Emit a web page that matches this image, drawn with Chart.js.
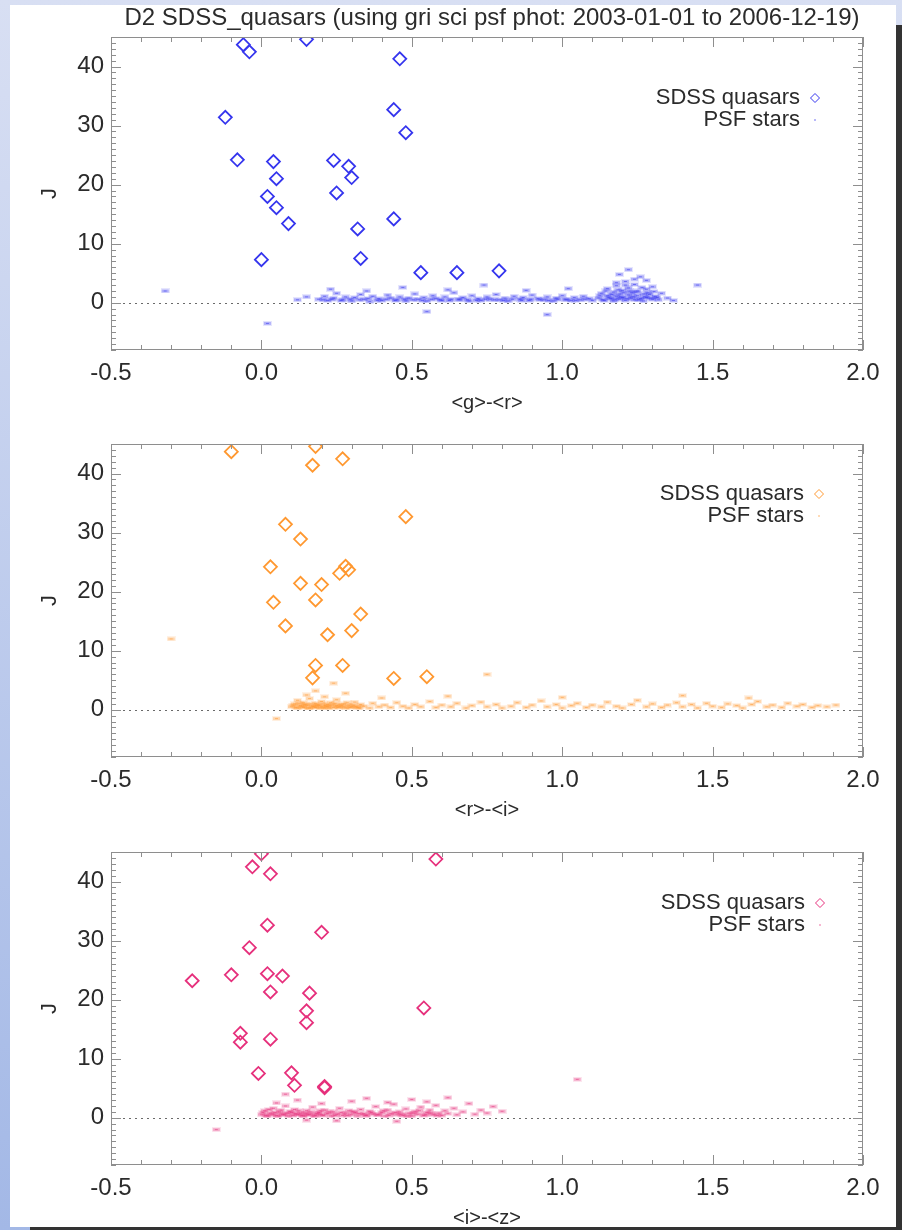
<!DOCTYPE html>
<html>
<head>
<meta charset="utf-8">
<script src="https://cdn.jsdelivr.net/npm/chart.js@4.4.0/dist/chart.umd.min.js"></script>
<style>
  html, body { margin: 0; padding: 0; }
  body {
    width: 902px; height: 1230px; position: relative; overflow: hidden;
    background: linear-gradient(#d8dff3, #a3b8e6);
    font-family: 'Liberation Sans', Arial, Helvetica, sans-serif;
  }
  #shadow { position: absolute; left: 30px; top: 25px; width: 900px; height: 1230px; background: #333; }
  #sheet { position: absolute; left: 10px; top: 5px; width: 886px; height: 1222px; background: #fff; }
  #title {
    position: absolute; left: 0; top: 3px; width: 984px; text-align: center;
    font-size: 24px; color: #2b2b2b; white-space: nowrap; filter: blur(0.3px);
  }
  canvas { position: absolute; left: 0; filter: blur(0.3px); }
</style>
</head>
<body>
<div id="shadow"></div>
<div id="sheet"></div>
<div id="title">D2 SDSS_quasars (using gri sci psf phot: 2003-01-01 to 2006-12-19)</div>
<canvas id="grChart" width="902" height="413" style="top:7px"></canvas>
<canvas id="riChart" width="902" height="413" style="top:414px"></canvas>
<canvas id="izChart" width="902" height="413" style="top:822px"></canvas>

<script>
// D2 SDSS quasars vs PSF stars, J index against colour
const X_TICKS = [-0.5, 0.0, 0.5, 1.0, 1.5, 2.0];
const Y_TICKS = [0, 10, 20, 30, 40];

const BLUE = '#3535ee';
const ORANGE = '#ff9830';
const PINK = '#e6307c';

// ── <g>-<r> ───────────────────────────────────────────────
const QSO_GR = [
  [-0.06, 43.7], [-0.04, 42.5], [0.15, 44.6], [0.46, 41.3], [-0.12, 31.4], [0.44, 32.7],
  [0.48, 28.8], [-0.08, 24.2], [0.04, 23.9], [0.24, 24.1], [0.29, 23.1], [0.30, 21.2],
  [0.05, 21.0], [0.25, 18.6], [0.02, 18.0], [0.05, 16.1], [0.09, 13.4], [0.44, 14.2],
  [0.32, 12.5], [0.00, 7.3], [0.33, 7.5], [0.53, 5.1], [0.65, 5.1], [0.79, 5.4]
];
const STARS_GR = [
  [0.19, 0.6], [0.21, 1.1], [0.22, 0.4], [0.24, 0.8], [0.25, 1.6], [0.27, 0.5], [0.28, 1.0],
  [0.30, 0.3], [0.31, 0.9], [0.33, 1.4], [0.34, 0.6], [0.36, 0.2], [0.37, 1.1], [0.39, 0.7],
  [0.40, 0.4], [0.42, 1.3], [0.43, 0.8], [0.45, 0.5], [0.46, 1.0], [0.48, 0.3], [0.49, 0.8],
  [0.51, 1.5], [0.52, 0.6], [0.54, 0.9], [0.55, 0.3], [0.57, 1.2], [0.58, 0.7], [0.60, 0.4],
  [0.61, 1.0], [0.63, 0.6], [0.64, 1.7], [0.66, 0.5], [0.67, 0.9], [0.69, 0.3], [0.70, 1.2],
  [0.72, 0.7], [0.73, 0.4], [0.75, 1.0], [0.76, 0.6], [0.78, 1.4], [0.79, 0.5], [0.81, 0.8],
  [0.82, 0.3], [0.84, 1.1], [0.86, 0.6], [0.87, 0.9], [0.89, 0.4], [0.90, 1.3], [0.92, 0.7],
  [0.94, 0.5], [0.95, 1.0], [0.97, 0.3], [0.98, 0.8], [1.00, 1.2], [1.01, 0.6], [1.03, 0.4],
  [1.04, 0.9], [1.06, 0.5], [1.07, 1.1], [1.09, 0.7], [1.10, 0.4],
  [0.205, 0.5], [0.235, 0.6], [0.265, 0.4], [0.295, 0.6], [0.325, 0.5], [0.355, 0.7],
  [0.385, 0.4], [0.415, 0.6], [0.445, 0.4], [0.475, 0.6], [0.505, 0.5], [0.535, 0.4],
  [0.565, 0.6], [0.595, 0.5], [0.625, 0.4], [0.655, 0.6], [0.685, 0.5], [0.715, 0.4],
  [0.745, 0.6], [0.775, 0.5], [0.805, 0.4], [0.835, 0.6], [0.865, 0.4], [0.895, 0.6],
  [0.925, 0.5], [0.955, 0.4], [0.985, 0.6], [1.015, 0.5], [1.045, 0.4], [1.075, 0.6],
  [1.12, 0.8], [1.13, 1.6], [1.14, 0.4], [1.15, 1.2], [1.15, 2.4], [1.16, 0.7], [1.17, 1.8],
  [1.17, 0.3], [1.18, 1.1], [1.18, 2.9], [1.19, 0.6], [1.19, 1.5], [1.20, 2.1], [1.20, 0.9],
  [1.21, 3.6], [1.21, 0.4], [1.22, 1.3], [1.22, 2.5], [1.23, 0.8], [1.23, 1.7], [1.24, 0.5],
  [1.24, 3.1], [1.25, 1.2], [1.25, 2.0], [1.26, 0.7], [1.26, 4.4], [1.27, 1.5], [1.27, 0.3],
  [1.28, 2.3], [1.28, 0.9], [1.29, 1.4], [1.30, 0.6], [1.30, 2.7], [1.31, 1.1], [1.32, 0.5],
  [1.33, 1.6], [1.35, 0.8], [1.37, 0.4],
  [1.125, 1.2], [1.135, 0.5], [1.145, 2.0], [1.155, 0.9], [1.165, 1.4], [1.175, 0.6],
  [1.185, 2.2], [1.195, 1.0], [1.205, 1.7], [1.215, 0.7], [1.225, 2.0], [1.235, 1.1],
  [1.245, 1.8], [1.255, 0.5], [1.265, 2.6], [1.275, 1.0], [1.285, 1.7], [1.295, 0.8],
  [1.305, 1.9], [1.315, 0.9], [1.21, 3.0], [1.24, 4.0], [1.18, 3.4],
  [0.23, 2.3], [0.35, 2.0], [0.47, 2.6], [0.62, 2.2], [0.74, 3.0], [0.88, 2.1], [1.02, 2.4],
  [1.22, 5.6], [1.19, 4.8], [1.28, 3.8],
  [-0.32, 2.0], [0.02, -3.5], [0.55, -1.5], [0.95, -2.0], [1.45, 3.0], [0.12, 0.5], [0.15, 1.0]
];

// ── <r>-<i> ───────────────────────────────────────────────
const QSO_RI = [
  [-0.10, 43.7], [0.18, 44.6], [0.17, 41.4], [0.27, 42.5], [0.48, 32.7], [0.08, 31.4],
  [0.13, 28.9], [0.03, 24.2], [0.28, 24.3], [0.29, 23.7], [0.26, 23.1], [0.13, 21.4],
  [0.20, 21.2], [0.18, 18.6], [0.04, 18.2], [0.33, 16.2], [0.08, 14.2], [0.30, 13.4],
  [0.22, 12.7], [0.18, 7.5], [0.27, 7.5], [0.17, 5.4], [0.44, 5.3], [0.55, 5.6]
];
const STARS_RI = [
  [0.10, 0.5], [0.11, 1.0], [0.12, 0.3], [0.12, 1.6], [0.13, 0.7], [0.14, 0.4], [0.14, 1.2],
  [0.15, 0.8], [0.16, 0.3], [0.16, 1.9], [0.17, 0.6], [0.18, 1.1], [0.18, 0.4], [0.19, 0.8],
  [0.20, 0.5], [0.20, 1.4], [0.21, 0.3], [0.22, 0.9], [0.22, 0.6], [0.23, 1.2], [0.24, 0.4],
  [0.25, 0.7], [0.25, 1.7], [0.26, 0.5], [0.27, 1.0], [0.28, 0.3], [0.29, 0.8], [0.30, 0.5],
  [0.31, 1.3], [0.32, 0.4], [0.33, 0.9], [0.34, 0.6], [0.36, 0.3], [0.37, 1.1], [0.39, 0.5],
  [0.105, 0.8], [0.115, 0.4], [0.125, 1.1], [0.135, 0.5], [0.145, 0.9], [0.155, 0.3],
  [0.165, 1.0], [0.175, 0.5], [0.185, 0.8], [0.195, 0.3], [0.205, 1.0], [0.215, 0.6],
  [0.225, 0.3], [0.235, 0.8], [0.245, 1.1], [0.255, 0.4], [0.265, 0.8], [0.275, 0.5],
  [0.285, 1.2], [0.295, 0.4], [0.305, 0.8], [0.315, 0.5], [0.325, 0.3],
  [0.41, 0.8], [0.43, 0.4], [0.45, 1.2], [0.47, 0.6], [0.49, 0.3], [0.51, 0.9], [0.53, 0.5],
  [0.56, 1.4], [0.58, 0.4], [0.60, 0.8], [0.63, 0.5], [0.65, 1.1], [0.68, 0.3], [0.70, 0.7],
  [0.73, 1.3], [0.75, 0.5], [0.78, 0.9], [0.80, 0.3], [0.83, 0.6], [0.85, 1.2], [0.88, 0.4],
  [0.90, 0.8], [0.93, 1.5], [0.95, 0.5], [0.98, 0.9], [1.00, 0.3], [1.03, 0.7], [1.05, 1.1],
  [1.08, 0.4], [1.10, 0.8], [1.13, 0.5], [1.15, 1.3], [1.18, 0.6], [1.20, 0.3], [1.23, 0.9],
  [1.25, 1.6], [1.28, 0.5], [1.30, 1.0], [1.33, 0.4], [1.35, 0.8], [1.38, 1.2], [1.40, 0.5],
  [1.43, 0.9], [1.45, 0.3], [1.48, 1.1], [1.50, 0.6], [1.53, 0.4], [1.55, 1.0], [1.58, 0.7],
  [1.60, 0.3], [1.63, 0.9], [1.65, 1.4], [1.68, 0.5], [1.70, 0.8], [1.73, 0.4], [1.75, 1.1],
  [1.78, 0.6], [1.80, 0.9], [1.83, 0.4], [1.85, 0.7], [1.88, 0.5], [1.91, 0.8],
  [0.15, 2.5], [0.21, 2.2], [0.28, 2.8], [0.18, 3.2], [0.40, 2.0], [0.62, 2.3], [1.00, 2.1],
  [1.40, 2.4], [1.62, 2.0], [0.24, 4.5],
  [-0.30, 12.0], [0.75, 6.0], [0.05, -1.5]
];

// ── <i>-<z> ───────────────────────────────────────────────
const QSO_IZ = [
  [0.00, 44.7], [-0.03, 42.5], [0.03, 41.3], [0.58, 43.8], [0.02, 32.6], [0.20, 31.4],
  [-0.04, 28.8], [-0.23, 23.2], [-0.10, 24.2], [0.02, 24.4], [0.07, 24.0], [0.03, 21.3],
  [0.16, 21.1], [0.15, 18.1], [0.54, 18.6], [0.15, 16.1], [-0.07, 14.3], [-0.07, 12.8],
  [0.03, 13.3], [-0.01, 7.5], [0.10, 7.6], [0.11, 5.5], [0.21, 5.3], [0.21, 5.1]
];
const STARS_IZ = [
  [0.00, 0.5], [0.01, 1.2], [0.02, 0.3], [0.03, 0.8], [0.04, 1.6], [0.05, 0.4], [0.06, 1.0],
  [0.07, 0.6], [0.08, 2.0], [0.09, 0.3], [0.10, 0.9], [0.11, 1.4], [0.12, 0.5], [0.13, 0.8],
  [0.14, 0.3], [0.15, 1.2], [0.16, 0.6], [0.17, 1.8], [0.18, 0.4], [0.19, 0.9], [0.20, 0.5],
  [0.21, 1.3], [0.22, 0.7], [0.23, 0.3], [0.24, 1.0], [0.25, 0.6], [0.26, 1.6], [0.27, 0.4],
  [0.28, 0.8], [0.29, 1.2], [0.30, 0.5], [0.31, 0.9], [0.32, 0.3], [0.33, 1.4], [0.34, 0.7],
  [0.35, 0.4], [0.36, 1.1], [0.37, 0.6], [0.38, 1.9], [0.39, 0.5], [0.40, 0.9], [0.41, 0.3],
  [0.42, 1.3], [0.43, 0.7], [0.44, 2.3], [0.45, 0.5], [0.46, 1.0], [0.47, 0.4], [0.48, 1.5],
  [0.49, 0.8], [0.50, 0.3], [0.51, 1.1], [0.52, 0.6], [0.53, 1.8], [0.54, 0.4], [0.55, 0.9],
  [0.56, 1.3], [0.57, 0.5], [0.58, 2.1], [0.59, 0.8], [0.60, 0.4], [0.61, 1.2], [0.62, 0.7],
  [0.64, 1.6], [0.65, 0.5], [0.67, 1.0], [0.69, 2.4], [0.71, 0.6], [0.73, 1.3], [0.75, 0.8],
  [0.77, 1.9], [0.80, 1.1],
  [0.005, 0.9], [0.015, 0.4], [0.025, 1.4], [0.035, 0.5], [0.045, 0.9], [0.055, 0.3],
  [0.065, 1.3], [0.075, 0.5], [0.085, 0.8], [0.095, 1.1], [0.105, 0.4], [0.115, 0.7],
  [0.125, 1.2], [0.135, 0.4], [0.145, 0.8], [0.155, 0.5], [0.165, 1.0], [0.175, 0.3],
  [0.185, 0.7], [0.195, 1.2], [0.205, 0.4], [0.225, 1.0], [0.245, 0.4], [0.265, 0.9],
  [0.285, 0.4], [0.305, 1.1], [0.325, 0.7], [0.345, 0.4], [0.365, 0.9], [0.385, 0.5],
  [0.405, 1.2], [0.425, 0.4], [0.445, 0.9], [0.465, 0.6], [0.485, 0.3], [0.505, 0.8],
  [0.525, 1.2], [0.545, 0.5], [0.565, 0.8], [0.585, 0.4],
  [0.05, 2.5], [0.12, 3.0], [0.20, 2.4], [0.30, 2.8], [0.35, 3.3], [0.42, 2.6], [0.50, 3.1],
  [0.55, 2.7], [0.62, 3.4], [0.25, -0.5], [0.45, -0.6], [0.15, -0.4],
  [0.08, 4.0], [-0.15, -2.0], [1.05, 6.5]
];

Chart.defaults.font.family = "'Liberation Sans', Arial, Helvetica, sans-serif";
Chart.defaults.color = '#2b2b2b';

// soft speck used for every star point
function speck(color) {
  const c = document.createElement('canvas');
  c.width = 9; c.height = 5;
  const g = c.getContext('2d');
  g.fillStyle = color;
  g.globalAlpha = 0.12; g.fillRect(0, 0, 9, 5);
  g.globalAlpha = 0.3; g.fillRect(1, 1, 7, 3);
  g.globalAlpha = 0.55; g.fillRect(3, 2, 3, 1);
  return c;
}

// IDL style box: frame, inward major/minor ticks on all sides, dotted zero line
const idlBox = {
  id: 'idlBox',
  beforeDatasetsDraw(chart) {
    const { ctx, chartArea: a, scales: { y } } = chart;
    const y0 = Math.round(y.getPixelForValue(0)) + 0.5;
    ctx.save();
    ctx.strokeStyle = '#6a6a6a';
    ctx.lineWidth = 1;
    ctx.setLineDash([2, 4]);
    ctx.beginPath();
    ctx.moveTo(a.left, y0);
    ctx.lineTo(a.right, y0);
    ctx.stroke();
    ctx.restore();
  },
  afterDatasetsDraw(chart) {
    const { ctx, chartArea: a, scales: { x, y } } = chart;
    ctx.save();
    ctx.strokeStyle = '#8e8e8e';
    ctx.lineWidth = 1;
    ctx.strokeRect(a.left + 0.5, a.top + 0.5, a.width - 1, a.height - 1);
    ctx.beginPath();
    for (let i = -5; i <= 20; i++) {
      const px = Math.round(x.getPixelForValue(i / 10)) + 0.5;
      const len = i % 5 === 0 ? 10 : 5;
      ctx.moveTo(px, a.bottom); ctx.lineTo(px, a.bottom - len);
      ctx.moveTo(px, a.top); ctx.lineTo(px, a.top + len);
    }
    for (let v = -8; v <= 45; v++) {
      const py = Math.round(y.getPixelForValue(v)) + 0.5;
      const len = v % 10 === 0 ? 10 : 5;
      ctx.moveTo(a.left, py); ctx.lineTo(a.left + len, py);
      ctx.moveTo(a.right, py); ctx.lineTo(a.right - len, py);
    }
    ctx.stroke();
    ctx.restore();
  },
  afterDraw(chart, args, opts) {
    const { ctx, chartArea: a } = chart;
    const ty = a.top + opts.top;
    ctx.save();
    ctx.fillStyle = '#2b2b2b';
    ctx.font = "22px 'Liberation Sans', Arial, sans-serif";
    ctx.textAlign = 'right';
    ctx.textBaseline = 'middle';
    ctx.fillText('SDSS quasars', opts.right, ty);
    ctx.fillText('PSF stars', opts.right, ty + 22);
    ctx.fillStyle = 'rgba(0,0,0,0)';
    ctx.strokeStyle = opts.color;
    Chart.helpers.drawPoint(ctx, { pointStyle: 'rectRot', radius: 4.5, borderWidth: 1.6 }, opts.right + 15, ty);
    ctx.globalAlpha = 0.35;
    ctx.fillStyle = opts.color;
    ctx.fillRect(opts.right + 14, ty + 21, 2, 2);
    ctx.restore();
  }
};

function buildPanel(id, quasars, stars, color, xTitle, legend) {
  new Chart(document.getElementById(id), {
    type: 'scatter',
    data: {
      datasets: [{
        label: 'SDSS quasars',
        data: quasars.map(([x, y]) => ({ x, y })),
        pointStyle: 'rectRot',
        pointRadius: 6.5,
        borderColor: color,
        backgroundColor: 'rgba(0,0,0,0)',
        borderWidth: 1.8
      }, {
        label: 'PSF stars',
        data: stars.map(([x, y]) => ({ x, y })),
        pointStyle: speck(color),
        pointRadius: 2,
        borderWidth: 0
      }]
    },
    options: {
      responsive: false,
      animation: false,
      devicePixelRatio: 1,
      events: [],
      layout: { padding: { top: 30, right: 39, left: 0, bottom: 0 } },
      plugins: {
        legend: { display: false },
        tooltip: { enabled: false },
        idlBox: legend
      },
      scales: {
        x: {
          type: 'linear', min: -0.5, max: 2.0,
          afterBuildTicks: (s) => { s.ticks = X_TICKS.map(v => ({ value: v })); },
          afterFit: (s) => { s.height = 70; },
          grid: { display: false, drawTicks: false },
          border: { display: false },
          ticks: {
            padding: 9, color: '#2b2b2b', font: { size: 24 },
            maxRotation: 0, autoSkip: false,
            callback: (v) => v.toFixed(1)
          },
          title: {
            display: true, text: xTitle, color: '#2b2b2b',
            font: { size: 20 }, padding: { top: 0, bottom: 5 }
          }
        },
        y: {
          type: 'linear', min: -8, max: 45,
          afterBuildTicks: (s) => { s.ticks = Y_TICKS.map(v => ({ value: v })); },
          afterFit: (s) => { s.width = 111; },
          grid: { display: false, drawTicks: false },
          border: { display: false },
          ticks: { padding: 7, color: '#2b2b2b', font: { size: 24 } },
          title: {
            display: true, text: 'J', color: '#2b2b2b',
            font: { size: 22 }, padding: { top: 37, bottom: 0 }
          }
        }
      }
    },
    plugins: [idlBox]
  });
}

buildPanel('grChart', QSO_GR, STARS_GR, BLUE, '<g>-<r>', { top: 61, right: 800, color: BLUE });
buildPanel('riChart', QSO_RI, STARS_RI, ORANGE, '<r>-<i>', { top: 50, right: 804, color: ORANGE });
buildPanel('izChart', QSO_IZ, STARS_IZ, PINK, '<i>-<z>', { top: 51, right: 805, color: PINK });
</script>
</body>
</html>
